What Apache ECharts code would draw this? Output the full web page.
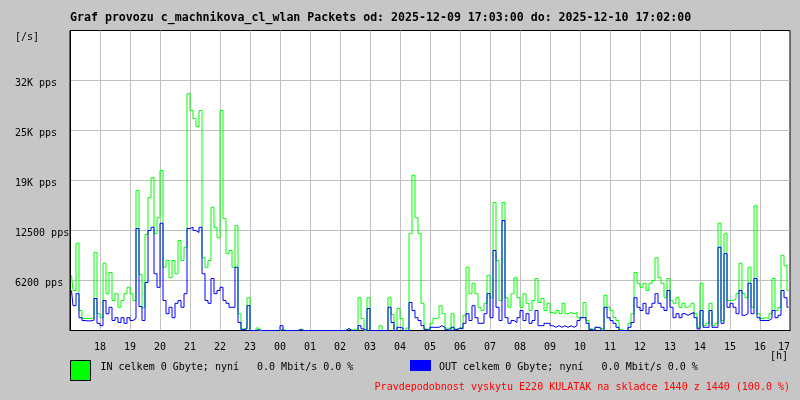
<!DOCTYPE html>
<html>
<head>
<meta charset="utf-8">
<script src="https://cdn.jsdelivr.net/npm/echarts@6/dist/echarts.min.js"></script>
<style>
html,body{margin:0;padding:0;background:#c6c6c6;}
#chart{width:800px;height:400px;}
</style>
</head>
<body>
<div id="chart"></div>
<script>
// ---- data (packets per second, one value per 6-minute step) ----
const START_MIN = 3;
const STEP_MIN = 6;
const IN_PPS = [
  6900, 5000, 10900, 2500, 1500, 1500, 1500, 1600, 9750, 2100,
  1600, 8400, 4600, 7250, 3750, 4600, 2900, 3750, 4600, 5400,
  4600, 3750, 17500, 7000, 2900, 12000, 16600, 19100, 12100, 14100,
  20000, 7900, 8750, 6600, 8750, 7100, 11250, 8750, 10400, 29600,
  27500, 26500, 25500, 27500, 9100, 7900, 8750, 15400, 12900, 11600,
  27500, 14000, 9600, 10000, 7900, 13100, 2100, 200, 300, 4100,
  0, 0, 300, 0, 0, 0, 0, 0, 0, 0,
  200, 0, 0, 0, 0, 0, 200, 0, 0, 0,
  0, 0, 0, 0, 0, 0, 0, 0, 0, 0,
  0, 0, 250, 0, 200, 0, 4100, 1500, 0, 4100,
  0, 0, 0, 600, 0, 0, 4100, 2000, 0, 2750,
  1500, 0, 300, 12100, 19400, 14100, 12100, 3400, 200, 100,
  900, 1500, 1600, 3100, 2100, 300, 200, 2100, 200, 300,
  400, 1900, 7900, 4600, 5900, 4600, 2900, 2500, 3400, 6900,
  4100, 16000, 8750, 3750, 16000, 4100, 2900, 4600, 6600, 4100,
  2900, 4600, 3400, 2500, 3750, 6500, 3500, 4000, 2500, 3400,
  2250, 2100, 2500, 2100, 3400, 2100, 2250, 2100, 2250, 1600,
  1600, 3500, 1250, 200, 100, 400, 300, 100, 4400, 2900,
  2500, 1600, 1250, 100, 0, 0, 900, 2100, 7250, 5900,
  5400, 5900, 5000, 5900, 6250, 9100, 6600, 5900, 4100, 6500,
  3750, 3400, 4100, 2900, 3400, 2900, 3100, 3400, 2100, 400,
  5900, 600, 900, 3400, 600, 900, 13400, 1250, 12100, 3750,
  3750, 3900, 4600, 8400, 4600, 4100, 7900, 2900, 15600, 2100,
  1500, 1600, 1500, 2100, 6500, 2500, 2900, 9400, 8100, 5000
];
const OUT_PPS = [
  5000, 3100, 4600, 1600, 1250, 1200, 1200, 1300, 4000, 900,
  600, 3750, 2100, 2900, 1250, 1600, 1000, 1600, 900, 1600,
  1250, 1500, 12750, 3000, 1250, 6000, 12500, 12900, 7100, 5400,
  13400, 3750, 2100, 2900, 1600, 3400, 3750, 2900, 4600, 12750,
  12900, 12500, 12250, 12900, 7100, 3750, 3400, 6500, 4600, 5000,
  5400, 3750, 3400, 2900, 2900, 7900, 1000, 100, 200, 3100,
  0, 0, 100, 0, 0, 0, 0, 0, 0, 0,
  600, 0, 0, 0, 0, 0, 100, 0, 0, 0,
  0, 0, 0, 0, 0, 0, 0, 0, 0, 0,
  0, 0, 250, 0, 0, 0, 600, 200, 0, 2750,
  0, 0, 0, 0, 0, 0, 2900, 1000, 0, 400,
  300, 0, 0, 3500, 2500, 1600, 1250, 600, 100, 0,
  400, 400, 400, 600, 400, 100, 0, 400, 100, 300,
  200, 900, 2100, 1250, 3100, 1600, 900, 900, 2100, 4600,
  1600, 10000, 2900, 1250, 13750, 1600, 900, 1250, 1000, 1600,
  2500, 1250, 2100, 900, 1250, 2500, 600, 600, 900, 900,
  600, 400, 600, 400, 600, 400, 600, 400, 600, 1250,
  1600, 1600, 900, 100, 0, 400, 300, 0, 2900, 1600,
  1250, 900, 400, 0, 0, 0, 400, 1000, 4100, 2900,
  2500, 3400, 2100, 2900, 3400, 4600, 3400, 2900, 2500, 5000,
  2900, 1600, 2100, 1600, 2100, 1900, 2100, 2250, 1600, 200,
  2500, 400, 400, 2500, 400, 400, 10400, 900, 9600, 2900,
  3400, 2900, 2100, 5000, 1900, 2100, 5900, 2100, 6500, 1600,
  1250, 1250, 1250, 1500, 2500, 1600, 1900, 5000, 4100, 2900
];
const hourLabels = ['', '18', '19', '20', '21', '22', '23', '00', '01', '02', '03', '04', '05',
  '06', '07', '08', '09', '10', '11', '12', '13', '14', '15', '16', '17'];
const yTickLabels = ['', '6200 pps', '12500 pps', '19K pps', '25K pps', '32K pps', ''];
const Y_STEP = 6250;
const Y_MAX = 37500;
const IN_NAME = 'IN celkem 0 Gbyte; nyní   0.0 Mbit/s 0.0 %';
const OUT_NAME = 'OUT celkem 0 Gbyte; nyní   0.0 Mbit/s 0.0 %';
const TITLE = 'Graf provozu c_machnikova_cl_wlan Packets od: 2025-12-09 17:03:00 do: 2025-12-10 17:02:00';
const FOOT = 'Pravdepodobnost vyskytu E220 KULATAK na skladce 1440 z 1440 (100.0 %)';

const MONO = '"DejaVu Sans Mono", "Liberation Mono", monospace';
const toPts = arr => arr.map((v, i) => [START_MIN + i * STEP_MIN, v]);

const chart = echarts.init(document.getElementById('chart'), null, {renderer: 'canvas'});
chart.setOption({
  backgroundColor: '#c6c6c6',
  animation: false,
  title: {
    text: TITLE, left: 70, top: 12, padding: 0,
    textStyle: {fontFamily: MONO, fontSize: 11.6, fontWeight: 'bold', color: '#000'}
  },
  legend: [
    {
      data: [{name: IN_NAME, itemStyle: {color: '#00ff00', borderColor: '#000', borderWidth: 1}}],
      left: 70, top: 360, padding: 0, icon: 'rect', itemWidth: 20, itemHeight: 20,
      selectedMode: false,
      formatter: n => '{t|' + n + '}',
      textStyle: {fontFamily: MONO, fontSize: 10, color: '#000',
        rich: {t: {fontFamily: MONO, fontSize: 10, color: '#000', padding: [0, 0, 6, 5]}}}
    },
    {
      data: [{name: OUT_NAME, itemStyle: {color: '#0000ff', borderWidth: 0}}],
      left: 410, top: 360, padding: 0, icon: 'rect', itemWidth: 21, itemHeight: 11,
      selectedMode: false,
      formatter: n => '{t|' + n + '}',
      textStyle: {fontFamily: MONO, fontSize: 10, color: '#000',
        rich: {t: {fontFamily: MONO, fontSize: 10, color: '#000', padding: [3, 0, 0, 3]}}}
    }
  ],
  grid: {
    left: 70, top: 30.5, width: 720, height: 300, show: true,
    backgroundColor: '#ffffff', borderColor: '#000', borderWidth: 1
  },
  xAxis: {
    type: 'value', min: 0, max: 1440, interval: 60,
    axisLine: {show: true, lineStyle: {color: '#000', width: 1}},
    axisTick: {show: false},
    axisLabel: {
      formatter: v => hourLabels[Math.round(v / 60)],
      margin: 12, fontFamily: MONO, fontSize: 10, color: '#000',
      alignMaxLabel: 'right', showMinLabel: true, showMaxLabel: true
    },
    splitLine: {show: true, showMinLine: false, showMaxLine: false, lineStyle: {color: '#c0c0c0', width: 1}}
  },
  yAxis: {
    type: 'value', min: 0, max: Y_MAX, interval: Y_STEP,
    axisLine: {show: true, lineStyle: {color: '#000', width: 1}},
    axisTick: {show: false},
    axisLabel: {
      formatter: v => '{t|' + yTickLabels[Math.round(v / Y_STEP)] + '}',
      align: 'left', margin: 55, fontFamily: MONO, fontSize: 10, color: '#000',
      rich: {t: {fontFamily: MONO, fontSize: 10, color: '#000', padding: [5, 0, 0, 0]}}
    },
    splitLine: {show: true, showMinLine: false, showMaxLine: false, lineStyle: {color: '#c0c0c0', width: 1}}
  },
  graphic: [
    {type: 'text', left: 15, top: 32, style: {text: '[/s]', font: '10px ' + MONO, fill: '#000'}},
    {type: 'text', left: 770, top: 351, style: {text: '[h]', font: '10px ' + MONO, fill: '#000'}},
    {type: 'text', right: 10, top: 382, style: {text: FOOT, font: '10px ' + MONO, fill: '#ff0000'}}
  ],
  series: [
    {
      name: IN_NAME, type: 'line', data: toPts(IN_PPS), step: 'middle',
      showSymbol: false, symbol: 'none', color: '#00ff00',
      lineStyle: {color: '#00ff00', width: 1}, itemStyle: {color: '#00ff00'}, z: 2
    },
    {
      name: OUT_NAME, type: 'line', data: toPts(OUT_PPS), step: 'middle',
      showSymbol: false, symbol: 'none', color: '#0000ff',
      lineStyle: {color: '#0000ff', width: 1}, itemStyle: {color: '#0000ff'}, z: 3
    }
  ]
});
</script>
</body>
</html>
